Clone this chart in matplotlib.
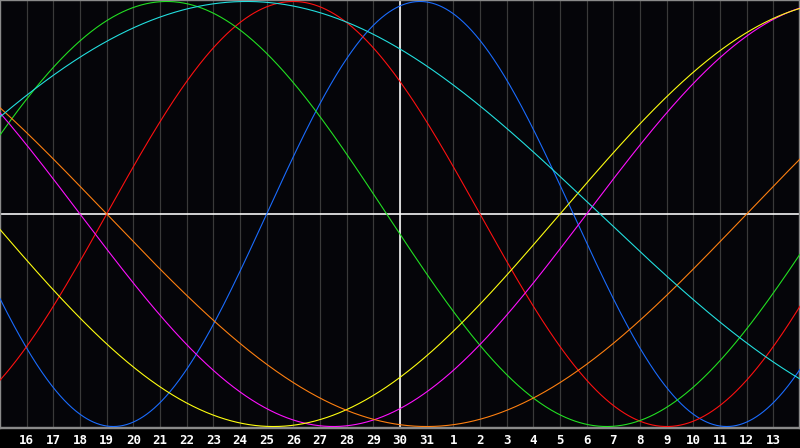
import numpy as np
import matplotlib
matplotlib.use('Agg')
import matplotlib.pyplot as plt

# Day labels along the bottom (one per gridline)
day_labels = [16, 17, 18, 19, 20, 21, 22, 23, 24, 25, 26, 27, 28, 29, 30, 31,
              1, 2, 3, 4, 5, 6, 7, 8, 9, 10, 11, 12, 13]
today_label = 30

# Days lived on the day before the first label
days_lived_start = 16964

# Cycle lengths in days and their line colours
cycle_periods = [23, 28, 33, 38, 43, 48, 53]
cycle_colors = ['#1a6cff', '#ff1010', '#22e022', '#ff10ff', '#ffff10', '#ff8010', '#22e0e0']

px = 1 / 100
fig = plt.figure(figsize=(8, 4.48), dpi=100, facecolor='#000000')
ax = fig.add_axes([0, 20 / 448, 1, 428 / 448])
ax.set_facecolor('#050509')

n_days = len(day_labels) + 1
ax.set_xlim(0, n_days)
ax.set_ylim(-1.007, 1.007)

# day gridlines
for k in range(1, n_days):
    ax.axvline(k, color='#3a3a3a', lw=1.2 * 72 * px, zorder=1)

# biorhythm curves
k = np.linspace(0, n_days, 1200)
for period, col in zip(cycle_periods, cycle_colors):
    t = days_lived_start + k
    ax.plot(k, np.sin(2 * np.pi * t / period), color=col, lw=1.1 * 72 * px, zorder=3)

# today marker and zero line
today_k = day_labels.index(today_label) + 1
ax.axvline(today_k, color='white', lw=1.6 * 72 * px, zorder=2)
ax.axhline(0, color='white', lw=1.6 * 72 * px, zorder=2)

for s in ax.spines.values():
    s.set_color('#8a8a8a')
    s.set_linewidth(2.4 * 72 * px)

ax.set_yticks([])
ax.set_xticks(range(1, n_days))
ax.set_xticklabels([str(d) for d in day_labels], color='white', fontsize=9,
                   fontweight='bold', family='DejaVu Sans Mono')
ax.tick_params(axis='x', length=0, pad=4.3)

fig.savefig('out.png', dpi=100, facecolor='#000000')
